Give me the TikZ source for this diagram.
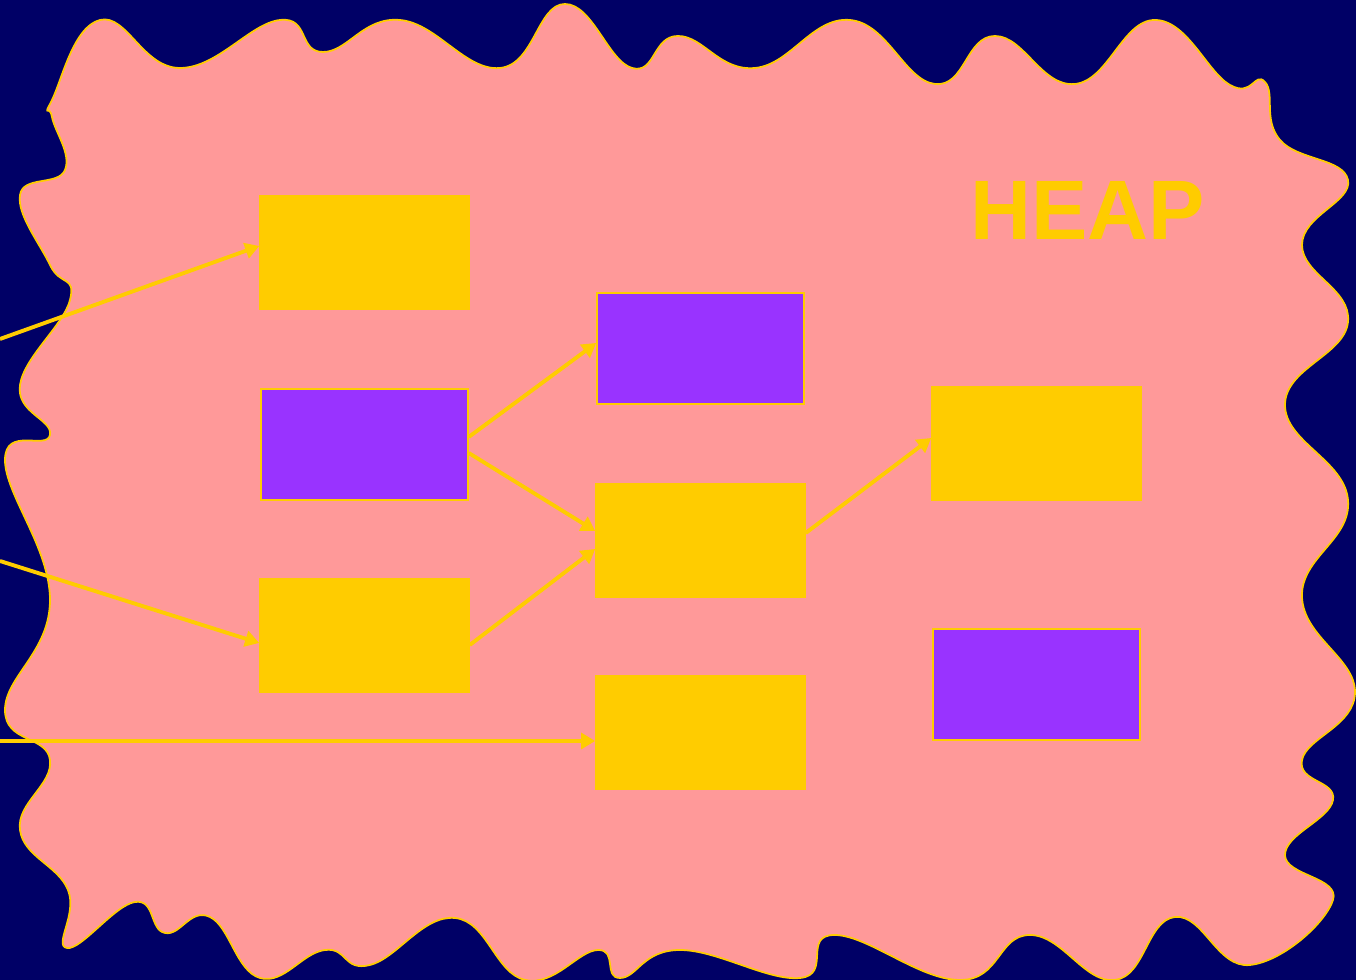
\documentclass[tikz,border=0pt]{standalone}
\usepackage{fontspec}
\setmainfont{Liberation Sans}
\usetikzlibrary{arrows.meta}
\definecolor{navy}{HTML}{000066}
\definecolor{heappink}{HTML}{FF9999}
\definecolor{objyellow}{HTML}{FFCC00}
\definecolor{objpurple}{HTML}{9933FF}

\begin{document}
\begin{tikzpicture}[x=0.01cm, y=-0.01cm,
    obj/.style={rectangle, draw=objyellow, line width=0.4pt, inner sep=0pt,
        minimum width=2.07cm, minimum height=1.11cm},
    live/.style={obj, fill=objyellow, minimum width=2.09cm, minimum height=1.13cm},
    dead/.style={obj, fill=objpurple},
    ref/.style={-{Triangle[length=4pt,width=4.5pt]}, objyellow, line width=1.1pt}
]
\fill[navy] (0,0) rectangle (1356,980);
\useasboundingbox (0,0) rectangle (1356,980);

% the heap
\draw[objyellow, line width=0.5pt, fill=heappink] plot[smooth cycle, tension=0.75] coordinates {
    (52,100) (100,20) (180,68) (280,20) (323,52) (400,20) (500,68) (565,4)
    (632,68) (678,36) (755,68) (850,20) (935,84) (995,36) (1075,84) (1155,20)
    (1230,85) (1265,82) (1280,140) (1348,180) (1302,245) (1348,322) (1285,405)
    (1348,500) (1302,597) (1355,692) (1302,760) (1333,800) (1285,855) (1333,900)
    (1250,965) (1175,917) (1115,980) (1030,935) (960,980) (835,935) (800,978)
    (680,950) (620,978) (598,950) (525,980) (455,918) (370,965) (325,950)
    (260,978) (210,917) (165,933) (135,902) (67,948) (68,890) (20,830)
    (50,760) (5,710) (50,600) (5,460) (50,435) (20,385) (70,300) (50,265)
    (20,195) (65,170) (52,117)};

\node[text=objyellow, inner sep=0pt] (heap) at (1088,210) {\fontsize{24}{24}\selectfont\bfseries HEAP};

\node[live] (a1) at (364.5,252.5) {};
\node[dead] (a2) at (364.5,444.5) {};
\node[live] (a3) at (364.5,635.5) {};
\node[dead] (b1) at (700.5,348.5) {};
\node[live] (b2) at (700.5,540.5) {};
\node[live] (b3) at (700.5,732.5) {};
\node[live] (c1) at (1036.5,443.5) {};
\node[dead] (c2) at (1036.5,684.5) {};

% roots
\coordinate (r1) at (0,339);
\coordinate (r2) at (0,561);
\coordinate (r3) at (0,741);

\draw[ref] (r1) -- ([yshift=0.065cm]a1.west);
\draw[ref] (r2) -- ([yshift=-0.075cm]a3.west);
\draw[ref] (r3) -- ([yshift=-0.085cm]b3.west);
\draw[ref] ([yshift=0.075cm]a2.east) -- ([yshift=0.055cm]b1.west);
\draw[ref] ([yshift=-0.085cm]a2.east) -- ([yshift=0.095cm]b2.west);
\draw[ref] ([yshift=-0.095cm]a3.east) -- ([yshift=-0.085cm]b2.west);
\draw[ref] ([yshift=0.075cm]b2.east) -- ([yshift=0.055cm]c1.west);
\end{tikzpicture}
\end{document}
